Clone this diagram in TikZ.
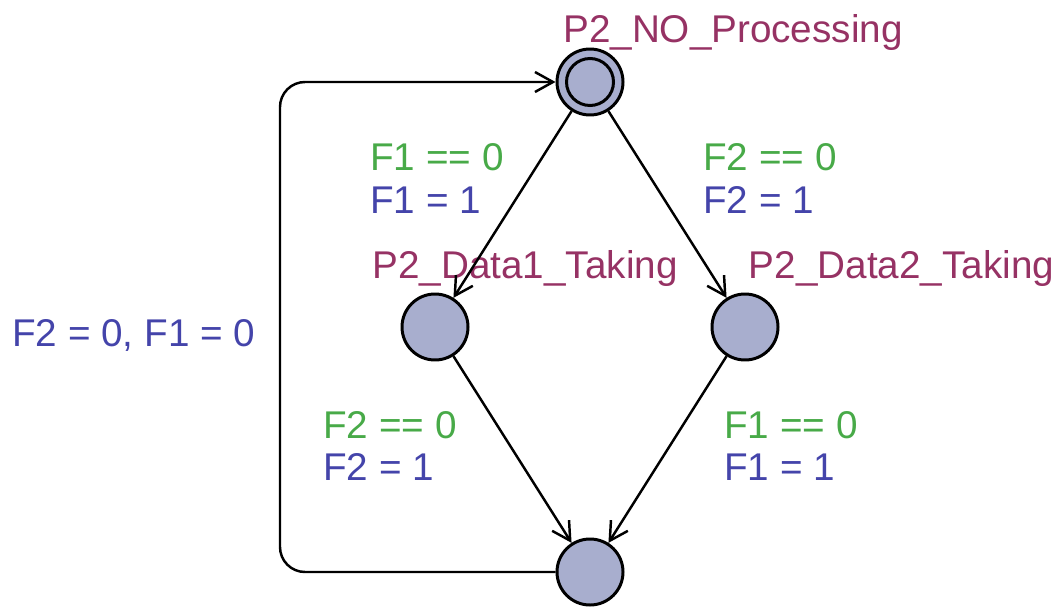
\documentclass[tikz,border=0pt]{standalone}
\usepackage{fontspec}
\setmainfont{Liberation Sans}
\usepackage{xcolor}
\definecolor{locpurple}{RGB}{150,50,100}
\definecolor{guardgreen}{RGB}{72,170,72}
\definecolor{assignblue}{RGB}{68,68,170}
\definecolor{locfill}{RGB}{168,174,206}
\usepackage{tikz}
\usetikzlibrary{arrows.meta, positioning}

\tikzset{
  loc/.style={circle, draw=black, line width=1.7pt, fill=locfill, minimum size=1.32cm, inner sep=0pt},
  locname/.style={font=\fontsize{22}{26}\selectfont, locpurple, inner sep=0pt},
  guard/.style={font=\fontsize{22}{26}\selectfont, guardgreen, inner sep=0pt, anchor=west},
  assign/.style={font=\fontsize{22}{26}\selectfont, assignblue, inner sep=0pt, anchor=west},
  edge/.style={line width=1.4pt, -{Straight Barb[length=0.36cm, width=0.4cm, line width=1.4pt]}}
}

\begin{document}
\begin{tikzpicture}
  \useasboundingbox (0,0) rectangle (21.28,12.2);

  % --- Locations ---
  \node[loc] (noproc) at (11.8,10.56) {};
  \draw[line width=1.7pt] (noproc.center) circle (0.47);
  \node[locname] (noproclbl) at (14.66,11.55) {P2\_NO\_Processing};

  \node[loc] (data1) at (8.7,5.66) {};
  \node[locname] (data1lbl) at (10.5,6.82) {P2\_Data1\_Taking};

  \node[loc] (data2) at (14.9,5.66) {};
  \node[locname] (data2lbl) at (18.03,6.82) {P2\_Data2\_Taking};

  \node[loc] (done) at (11.8,0.76) {};

  % --- Edges ---
  \draw[edge] (noproc) -- (data1);
  \draw[edge] (noproc) -- (data2);
  \draw[edge] (data1) -- (done);
  \draw[edge] (data2) -- (done);
  \coordinate (loopcorner) at (5.6,10.56);
  \draw[edge, rounded corners=0.5cm] (done.west) -| (loopcorner) -- (noproc.west);

  % --- Guards and updates ---
  \node[guard] (g1) at (7.4,9.06) {F1 == 0};
  \node[assign] (a1) at (7.4,8.2) {F1 = 1};
  \node[guard] (g2) at (14.06,9.06) {F2 == 0};
  \node[assign] (a2) at (14.06,8.2) {F2 = 1};
  \node[guard] (g3) at (6.46,3.7) {F2 == 0};
  \node[assign] (a3) at (6.46,2.86) {F2 = 1};
  \node[guard] (g4) at (14.48,3.7) {F1 == 0};
  \node[assign] (a4) at (14.48,2.86) {F1 = 1};
  \node[assign] (reset) at (0.24,5.5) {F2 = 0, F1 = 0};
\end{tikzpicture}
\end{document}
